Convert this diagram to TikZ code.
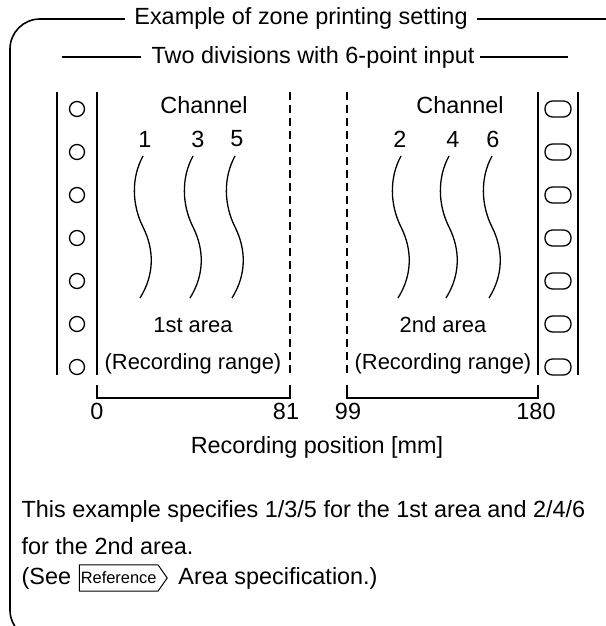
\documentclass[tikz,border=0pt]{standalone}
\usepackage{fontspec}
\setmainfont{Liberation Sans}
\usetikzlibrary{shapes.symbols}
\newcommand\wavyline[1]{%
  \draw (#1,156) .. controls (#1-12,178) and (#1-11,205) .. (#1,227)
        .. controls (#1+11,249) and (#1+12,274) .. (#1-3,298);}
\begin{document}
\begin{tikzpicture}[x=1bp,y=-1bp, line width=1.3bp,
  font=\fontsize{23.5}{27}\selectfont,
  txt/.style={inner sep=0pt},
  areatxt/.style={inner sep=0pt, font=\fontsize{22}{25}\selectfont},
  frameline/.style={line width=1.6bp},
  dashline/.style={dash pattern=on 8bp off 5bp},
  hole/.style={line width=1.3bp},
  smalltxt/.style={font=\fontsize{16.5}{18}\selectfont}]
\useasboundingbox (0,0) rectangle (606,626);
\begin{scope}
  \clip (0,0) rectangle (606,626);
  \draw[frameline, rounded corners=30bp] (10,19) rectangle (640,640);
\end{scope}
\node[fill=white, inner xsep=9bp, inner ysep=2bp] (title) at (301,18) {Example of zone printing setting};

\node[txt] (sub) at (313,57) {Two divisions with 6-point input};
\coordinate (subL) at (62,57);
\coordinate (subR) at (568,57);
\draw (subL) -- ([xshift=-10bp]sub.west);
\draw ([xshift=5bp]sub.east) -- (subR);

% left sprocket strip
\coordinate (ls1) at (57,92); \coordinate (ls2) at (57,375);
\coordinate (ls3) at (97,92); \coordinate (ls4) at (97,375);
\draw (ls1) -- (ls2);
\draw (ls3) -- (ls4);
\foreach \yy in {109,152,195,238,281,324,367}
  \draw[hole] (77,\yy) circle[radius=7.5bp];

% right sprocket strip
\coordinate (rs1) at (538,92); \coordinate (rs2) at (538,375);
\coordinate (rs3) at (578,92); \coordinate (rs4) at (578,375);
\draw (rs1) -- (rs2);
\draw (rs3) -- (rs4);
\foreach \yy in {109,152,195,238,281,324,367}
  \draw[hole, rounded corners=7.5bp] (545,\yy-8) rectangle (571,\yy+8);

% dashed area borders
\coordinate (d1a) at (290,92); \coordinate (d1b) at (290,375);
\coordinate (d2a) at (347,92); \coordinate (d2b) at (347,375);
\draw[dashline] (d1a) -- (d1b);
\draw[dashline] (d2a) -- (d2b);

% channels
\node[txt] (ch1) at (204,105) {Channel};
\node[txt] (c1) at (145,139) {1};
\node[txt] (c3) at (198,139) {3};
\node[txt] (c5) at (237,139) {5};
\node[txt] (ch2) at (460,105) {Channel};
\node[txt] (c2) at (400,139) {2};
\node[txt] (c4) at (453,139) {4};
\node[txt] (c6) at (493,139) {6};
\wavyline{143}
\wavyline{193}
\wavyline{235}
\wavyline{401}
\wavyline{449}
\wavyline{492}

% area labels
\node[areatxt] (a1) at (193,325) {1st area};
\node[areatxt] (r1) at (193,364) {(Recording range)};
\node[areatxt] (a2) at (443,325) {2nd area};
\node[areatxt] (r2) at (443,364) {(Recording range)};

% brackets
\coordinate (b1) at (97,385); \coordinate (b2) at (97,398);
\coordinate (b3) at (290,398); \coordinate (b4) at (290,385);
\draw (b1) -- (b2) -- (b3) -- (b4);
\coordinate (b5) at (347,385); \coordinate (b6) at (347,398);
\coordinate (b7) at (538,398); \coordinate (b8) at (538,385);
\draw (b5) -- (b6) -- (b7) -- (b8);

\node[txt] (n0) at (97,411) {0};
\node[txt] (n81) at (286,411) {81};
\node[txt] (n99) at (348,411) {99};
\node[txt] (n180) at (536,411) {180};

\node[txt] (pos) at (317,447) {Recording position [mm]};

% bottom text
\node[txt, anchor=west] (l1) at (21,511) {This example specifies 1/3/5 for the 1st area and 2/4/6};
\node[txt, anchor=west] (l2) at (21,546) {for the 2nd area.};
\node[txt, anchor=west] (see) at (21,578) {(See};
\node[draw, line width=1bp, signal, signal to=east, signal pointer angle=110,
      smalltxt, inner xsep=1.5bp, inner ysep=7bp, anchor=west] (ref) at ([xshift=7bp]see.east) {Reference};
\node[txt, anchor=west] (area) at ([xshift=10bp]ref.east) {Area specification.)};
\end{tikzpicture}
\end{document}
